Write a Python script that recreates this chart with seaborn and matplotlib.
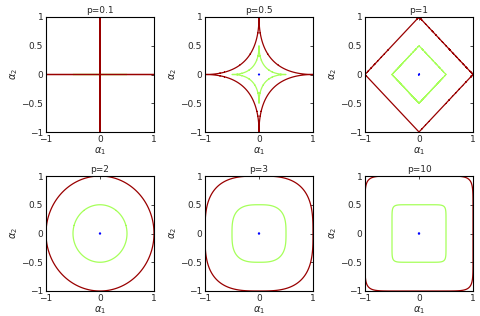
import numpy as np
import matplotlib
matplotlib.use("Agg")
import matplotlib.pyplot as plt
import seaborn as sns

# p of each panel, radii of the drawn level sets and their colours
p_values = [0.1, 0.5, 1, 2, 3, 10]
titles = ["p=0.1", "p=0.5", "p=1", "p=2", "p=3", "p=10"]
levels = [0.01, 0.5, 1.0]
level_colors = ["#0000ff", "#a6ff5a", "#990000"]
xticks = [-1, 0, 1]
yticks = [-1, -0.5, 0, 0.5, 1]

sns.set_style("white")
plt.rcParams["font.family"] = ["DejaVu Sans"]
plt.rcParams["font.size"] = 6.5
plt.rcParams["mathtext.fontset"] = "dejavusans"

fig = plt.figure(figsize=(4.8, 3.16), dpi=100)
W, H = 480.0, 316.0
lefts = [46, 205, 365]
tops = [17, 176]
aw, ah = 108, 115

grid = np.linspace(-1.05, 1.05, 841)
A1, A2 = np.meshgrid(grid, grid)

for i, p in enumerate(p_values):
    r, c = divmod(i, 3)
    ax = fig.add_axes([lefts[c] / W, 1 - (tops[r] + ah) / H, aw / W, ah / H])
    norm = (np.abs(A1) ** p + np.abs(A2) ** p) ** (1.0 / p)
    ax.contour(A1, A2, norm, levels=levels, colors=level_colors, linewidths=0.9)
    ax.set_xlim(-1, 1)
    ax.set_ylim(-1, 1)
    ax.set_xticks(xticks)
    ax.set_xticklabels(["\u22121", "0", "1"])
    ax.set_yticks(yticks)
    ax.set_yticklabels(["\u22121", "\u22120.5", "0", "0.5", "1"])
    ax.tick_params(direction="in", length=2.5, width=0.6, top=True, right=True,
                   pad=2, labelsize=6.5)
    for s in ax.spines.values():
        s.set_color("black")
        s.set_linewidth(0.8)
    ax.set_title(titles[i], fontsize=6.5, pad=3)
    ax.set_xlabel(r"$\alpha_1$", fontsize=7, labelpad=1)
    ax.set_ylabel(r"$\alpha_2$", fontsize=7, labelpad=1)

fig.savefig("out.png", dpi=100)
